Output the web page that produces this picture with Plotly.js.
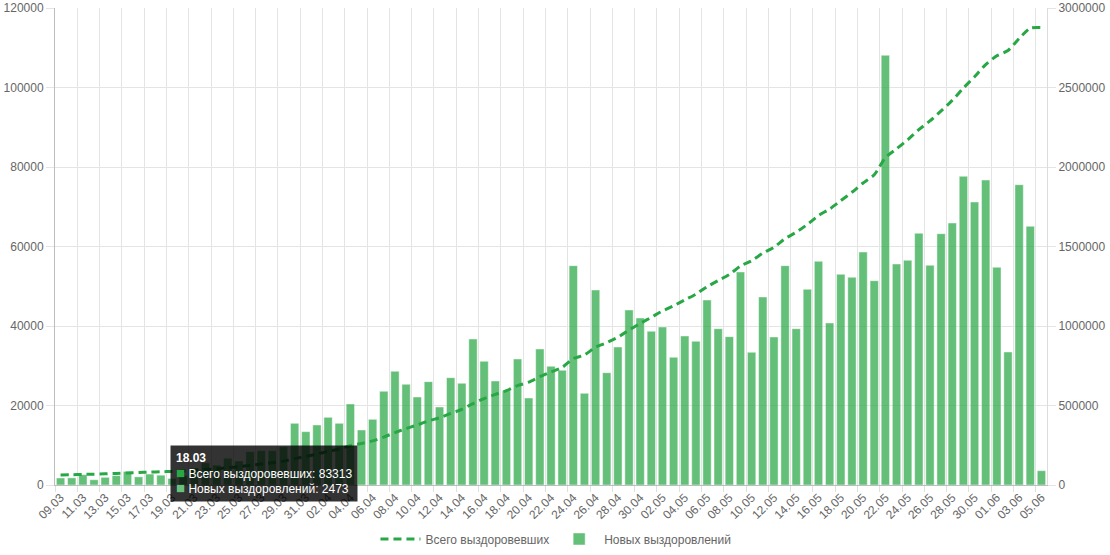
<!DOCTYPE html>
<html>
<head>
<meta charset="utf-8">
<script src="https://cdn.plot.ly/plotly-3.0.1.min.js"></script>
<style>
html,body{margin:0;padding:0;background:#fff;}
#chart{width:1110px;height:555px;}
</style>
</head>
<body>
<div id="chart"></div>
<script>
var dates = [
"09.03","10.03","11.03","12.03","13.03","14.03","15.03","16.03","17.03","18.03",
"19.03","20.03","21.03","22.03","23.03","24.03","25.03","26.03","27.03","28.03",
"29.03","30.03","31.03","01.04","02.04","03.04","04.04","05.04","06.04","07.04",
"08.04","09.04","10.04","11.04","12.04","13.04","14.04","15.04","16.04","17.04",
"18.04","19.04","20.04","21.04","22.04","23.04","24.04","25.04","26.04","27.04",
"28.04","29.04","30.04","01.05","02.05","03.05","04.05","05.05","06.05","07.05",
"08.05","09.05","10.05","11.05","12.05","13.05","14.05","15.05","16.05","17.05",
"18.05","19.05","20.05","21.05","22.05","23.05","24.05","25.05","26.05","27.05",
"28.05","29.05","30.05","31.05","01.06","02.06","03.06","04.06","05.06"];

var newRecovered = [
1760,1804,2599,1321,1927,2373,3410,2054,2752,2473,
1649,2441,4273,5567,5000,6720,6040,8380,8630,8630,
9640,15520,13420,15100,17030,15520,20380,13840,16520,23570,
28600,25330,22140,26000,19620,27000,25580,36730,31110,26160,
23730,31700,21890,34220,29860,28850,55180,23060,49060,28260,
34720,44030,42010,38660,39750,32120,37490,36150,46540,39330,
37320,53590,33380,47300,37240,55180,39330,49230,56270,40760,
53000,52250,58620,51400,108100,55600,56530,63320,55270,63230,
65910,77660,71200,76730,54770,33460,75550,65080,3600];

var totalRecovered = [
62600,64404,67003,68324,70251,72624,76034,78088,80840,83313,
84962,87403,91676,97243,102243,108963,115003,123383,132013,140643,
150283,165803,179223,194323,211353,226873,247253,261093,277613,301183,
329783,355113,377253,403253,422873,449873,475453,512183,543293,569453,
593183,624883,646773,680993,710853,739703,794883,817943,867003,895263,
929983,974013,1016023,1054683,1094433,1126553,1164043,1200193,1246733,1286063,
1323383,1376973,1410353,1457653,1494893,1550073,1589403,1638633,1694903,1735663,
1788663,1840913,1899533,1950933,2059033,2114633,2171163,2234483,2289753,2352983,
2418893,2496553,2567753,2644483,2699253,2732713,2808263,2873343,2876943];

var seriesNames = ["Всего выздоровевших", "Новых выздоровлений"];
var tipIndex = 9;

var lineColor = "rgb(40,167,69)";
var barColor = "rgba(40,167,69,0.72)";
var barSolid = "rgb(105,193,125)";
var textColor = "#666";
var fontFamily = "Liberation Sans, Arial, Helvetica, sans-serif";

var traces = [
  {
    type: "scatter", mode: "lines", name: seriesNames[0],
    x: dates, y: totalRecovered, yaxis: "y2",
    line: {color: lineColor, width: 3, dash: "8px,5px", shape: "spline", smoothing: 0.6},
    hoverinfo: "skip"
  },
  {
    type: "bar", name: seriesNames[1],
    x: dates, y: newRecovered, yaxis: "y",
    marker: {color: barColor, line: {color: "rgba(255,255,255,0.45)", width: 1}},
    hoverinfo: "skip"
  }
];

var tipText = "<b>" + dates[tipIndex] + "</b><br>" +
  "<span style='color:" + lineColor + ";font-size:15px'>■</span> " + seriesNames[0] + ": " + totalRecovered[tipIndex] + "<br>" +
  "<span style='color:" + barSolid + ";font-size:15px'>■</span> " + seriesNames[1] + ": " + newRecovered[tipIndex];

var layout = {
  width: 1110, height: 555,
  margin: {l: 55, r: 63, t: 8, b: 70, autoexpand: false},
  paper_bgcolor: "#fff", plot_bgcolor: "#fff",
  font: {family: fontFamily, size: 12, color: textColor},
  bargap: 0.25,
  showlegend: true,
  legend: {orientation: "h", x: 0.505, xanchor: "center",
           yref: "container", y: 0.055, yanchor: "top",
           itemwidth: 40,
           font: {size: 12, color: textColor}, traceorder: "normal"},
  xaxis: {
    type: "category", range: [-0.5, dates.length - 0.5],
    tickmode: "linear", tick0: 0, dtick: 2, automargin: false,
    tickson: "boundaries", ticks: "outside", ticklen: 6, tickcolor: "#e0e0e0",
    tickangle: -45, showgrid: true, gridcolor: "#e4e4e4",
    showline: true, linecolor: "#bdbdbd", linewidth: 1, zeroline: false,
    tickfont: {size: 12, color: textColor}
  },
  yaxis: {
    range: [0, 120000], dtick: 20000, tickformat: "d", automargin: false,
    ticks: "outside", ticklen: 8, tickcolor: "#e4e4e4",
    showgrid: true, gridcolor: "#e4e4e4", zeroline: false,
    showline: true, linecolor: "#bdbdbd", linewidth: 1,
    tickfont: {size: 12, color: textColor}
  },
  yaxis2: {
    overlaying: "y", side: "right", automargin: false,
    range: [0, 3000000], dtick: 500000, tickformat: "d",
    ticks: "outside", ticklen: 8, tickcolor: "#e4e4e4",
    showgrid: false, zeroline: false,
    showline: true, linecolor: "#dcdcdc", linewidth: 1,
    tickfont: {size: 12, color: textColor}
  },
  annotations: [{
    xref: "paper", yref: "paper",
    x: 0.116, y: 0.084, xanchor: "left", yanchor: "top",
    text: tipText, showarrow: false, align: "left",
    bgcolor: "rgba(0,0,0,0.8)", bordercolor: "rgba(0,0,0,0)", borderpad: 5,
    font: {family: fontFamily, size: 12, color: "#fff"}
  }]
};

Plotly.newPlot("chart", traces, layout, {displayModeBar: false, staticPlot: true});
</script>
</body>
</html>
